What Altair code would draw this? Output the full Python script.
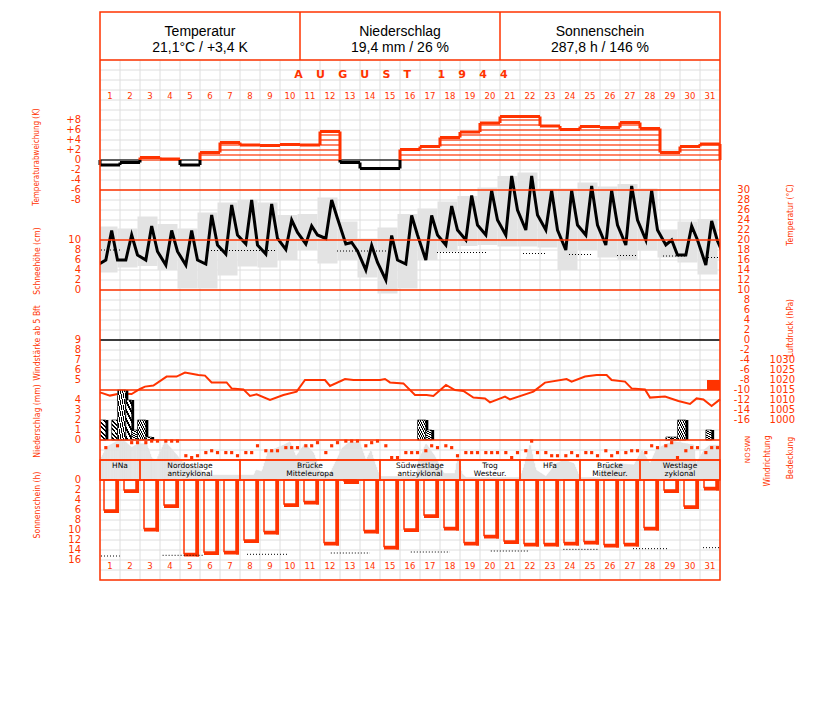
import altair as alt
import pandas as pd

RED = "#ff3300"
GRIDC = "#dedede"
SHADE = "#e3e3e3"
NARROW = "'Liberation Sans Narrow', 'DejaVu Sans Condensed', sans-serif"
WIDE = "'DejaVu Sans', sans-serif"
HEAD = "'Liberation Sans', Arial, sans-serif"

# ------------------------------------------------------------------ data
days = list(range(1, 32))

# daily mean temperature anomaly (K)
anomaly = [-1.0, -0.5, 0.5, 0.2, -1.0, 1.5, 3.5, 3.0, 2.9, 3.1, 3.0, 5.7, -0.5, -1.7, -1.7,
           2.1, 2.7, 4.5, 5.6, 7.4, 8.7, 8.7, 6.8, 6.1, 6.7, 6.5, 7.5, 6.3, 1.5, 2.7, 3.2]

# temperature at 7, 14, 21 h (°C)
temp_07 = [16.0, 16.0, 16.0, 15.0, 15.0, 15.2, 17.2, 19.2, 17.2, 18.1, 19.2, 20.3, 19.2, 14.0, 12.0,
           15.2, 16.0, 19.0, 20.0, 21.0, 21.0, 22.0, 22.0, 18.0, 21.0, 19.0, 19.0, 20.0, 19.0, 17.0, 15.0]
temp_14 = [21.9, 21.0, 22.8, 21.9, 21.9, 25.0, 27.0, 28.0, 27.2, 24.0, 22.8, 28.0, 19.5, 18.9, 20.9,
           24.9, 24.9, 26.8, 28.9, 29.9, 32.8, 32.8, 29.9, 29.9, 30.8, 29.9, 30.8, 29.9, 20.0, 22.8, 23.8]
temp_21 = [16.0, 17.0, 17.7, 17.7, 16.0, 19.0, 21.0, 19.0, 20.3, 21.5, 21.0, 24.3, 17.8, 15.5, 16.0,
           21.0, 21.0, 22.0, 23.0, 24.0, 26.0, 25.0, 22.0, 23.0, 23.0, 23.0, 24.0, 22.0, 17.0, 20.0, 19.8]
temp_prev_21 = 15.0   # 31 July, 21 h
temp_next_07 = 16.0   # 1 September, 7 h

# daily extremes (°C)
tmax = [22.7, 22.3, 24.7, 23.2, 22.3, 25.5, 27.5, 28.0, 27.5, 25.0, 25.2, 28.5, 23.7, 20.3, 22.5, 25.2,
        26.3, 27.7, 28.8, 30.5, 32.8, 33.5, 30.3, 30.3, 31.5, 30.7, 31.2, 30.3, 22.0, 23.7, 24.2]
tmin = [13.5, 14.5, 14.8, 14.0, 10.3, 10.3, 12.9, 14.7, 14.5, 16.0, 18.0, 15.3, 16.0, 12.5, 9.3, 10.3,
        16.0, 17.7, 18.8, 19.0, 18.7, 18.7, 18.5, 14.0, 18.0, 16.5, 16.0, 17.9, 16.5, 15.5, 13.1]

# normal temperature (dotted)
tnorm_from = [0.05, 5.4, 11.85, 16.85, 21.15, 23.45, 25.85, 28.15, 30.4]
tnorm_to = [1.0, 8.75, 14.3, 19.3, 22.3, 24.6, 26.9, 29.3, 31.0]
tnorm_val = [18.0, 17.9, 17.8, 17.5, 17.3, 17.1, 16.9, 16.8, 16.5]

# air pressure (hPa)
press_t = [0.0, 0.5, 1.0, 1.58, 2.0, 2.25, 2.67, 3.33, 3.83, 4.25, 4.92, 5.25, 5.58, 6.33, 6.58, 7.17,
           7.5, 7.83, 8.5, 9.17, 9.83, 10.25, 11.25, 11.5, 12.25, 12.67, 14.0, 14.25, 14.5, 15.17,
           15.75, 16.33, 16.67, 17.3, 17.75, 18.17, 18.67, 19.25, 19.5, 20.25, 20.5, 21.67, 22.25,
           23.33, 23.58, 24.25, 24.83, 25.33, 25.58, 26.25, 26.58, 27.25, 27.5, 28.25, 28.92, 29.5,
           29.83, 30.17, 30.58, 31.0]
press_hpa = [1013.8, 1012.2, 1013.3, 1013.0, 1015.5, 1016.7, 1017.2, 1021.7, 1021.7, 1023.7, 1022.5,
             1022.2, 1018.8, 1018.8, 1015.8, 1015.3, 1012.0, 1012.8, 1010.0, 1012.5, 1014.2, 1020.0,
             1020.0, 1017.0, 1020.5, 1020.0, 1020.0, 1020.5, 1018.8, 1018.3, 1012.5, 1012.5, 1012.0,
             1017.5, 1015.0, 1014.5, 1011.2, 1010.8, 1008.8, 1011.7, 1010.3, 1014.2, 1018.7, 1020.5,
             1019.2, 1021.7, 1022.5, 1022.5, 1020.0, 1019.2, 1015.8, 1015.3, 1011.2, 1011.7, 1009.5,
             1008.0, 1010.8, 1010.3, 1007.0, 1010.3]

# wind force >= 5 Bft
wind_from = [30.35]
wind_to = [31.0]
wind_bft = [5]

# precipitation per observation interval (mm)
precip_from = [0.0, 0.583, 0.875, 1.292, 1.583, 1.875, 2.292, 15.875, 16.292, 28.292, 28.583, 28.875, 30.292]
precip_to = [0.292, 0.875, 1.292, 1.583, 1.875, 2.292, 2.583, 16.292, 16.583, 28.583, 28.875, 29.292, 30.583]
precip_mm = [2.0, 2.0, 5.0, 4.0, 1.0, 2.0, 0.3, 2.0, 1.0, 0.3, 0.3, 2.0, 1.0]

# cloud cover (octas)
cloud_t = [0.0, 0.37, 0.83, 1.25, 1.58, 1.92, 2.33, 2.6, 2.83, 3.25, 3.83, 4.17, 4.83, 5.3, 6.8, 7.7,
           7.8, 8.1, 8.4, 9.2, 9.5, 9.8, 10.25, 10.7, 11.0, 11.5, 12.1, 12.5, 13.0, 13.3, 13.55, 13.75,
           14.0, 15.8, 15.9, 16.3, 16.75, 17.2, 17.75, 17.9, 18.1, 18.3, 21.0, 21.2, 21.5, 21.8, 22.3,
           22.8, 23.2, 23.7, 24.0, 25.0, 25.2, 26.0, 26.7, 27.1, 27.5, 27.8, 28.2, 28.7, 29.7, 29.8,
           30.2, 30.5, 31.0]
cloud_oct = [4.0, 6.7, 7.7, 7.7, 6.5, 7.3, 7.2, 4.3, 4.0, 7.7, 5.0, 3.3, 2.7, 1.0, 1.0, 1.0, 2.0, 1.7,
             5.7, 7.0, 7.7, 4.7, 7.3, 5.3, 1.7, 1.3, 6.3, 7.7, 7.3, 4.0, 6.0, 3.3, 0.7, 0.7, 3.7, 7.3,
             4.7, 1.3, 1.3, 5.3, 1.3, 0.5, 0.5, 2.7, 7.3, 2.0, 0.7, 3.3, 4.0, 3.3, 0.5, 0.5, 3.0, 3.3,
             3.0, 6.0, 3.3, 6.0, 7.0, 7.7, 7.0, 3.3, 6.0, 7.0, 7.0]

# wind direction at 7, 14, 21 h (degrees, None = calm)
wdir_07 = [210, None, 290, 315, 80, 130, 130, 130, 160, 210, 240, 130, 315, 240, 240, 130,
           160, 240, 130, 130, 130, 160, 130, 80, 130, 160, 130, 130, 240, 160, 130]
wdir_14 = [None, 290, 315, 315, 50, 160, 130, 130, 160, 210, 240, 240, 315, 290, 50, 130,
           240, 210, 130, 130, 50, 315, 80, 130, 130, 80, 160, 240, 290, 210, 210]
wdir_21 = [240, 290, 315, 315, 80, 130, 80, 240, 160, 210, 290, 290, 315, 315, 50, 130,
           210, 80, 130, 130, 130, 130, 80, 80, 80, 130, 160, 210, 50, 210, 210]

# sunshine duration (h)
sun_h = [6.0, 2.0, 9.7, 5.0, 14.7, 14.4, 14.3, 12.0, 10.3, 4.8, 4.3, 12.5, 0.2, 10.1, 13.3, 9.8,
         7.0, 9.5, 12.5, 11.1, 12.2, 12.7, 12.7, 12.5, 12.3, 12.9, 12.7, 9.5, 2.0, 5.2, 1.5]

# astronomically possible sunshine (dotted)
dlen_from = [0.05, 3.13, 7.35, 11.54, 15.54, 19.54, 23.17, 26.65, 30.15]
dlen_to = [0.99, 5.17, 9.4, 13.5, 17.5, 21.4, 24.9, 28.4, 31.0]
dlen_h = [15.2, 15.06, 14.86, 14.6, 14.4, 14.2, 13.87, 13.73, 13.53]

# weather types (Grosswetterlagen)
wt_line1 = ["HNa", "Nordostlage", "Brücke", "Südwestlage", "Trog", "HFa", "Brücke", "Westlage"]
wt_line2 = ["", "antizyklonal", "Mitteleuropa", "antizyklonal", "Westeur.", "", "Mitteleur.", "zyklonal"]
wt_from = [1, 3, 8, 15, 19, 22, 25, 28]
wt_to = [2, 7, 14, 18, 21, 24, 27, 31]

header_titles = ["Temperatur", "Niederschlag", "Sonnenschein"]
header_values = ["21,1°C / +3,4 K", "19,4 mm / 26 %", "287,8 h / 146 %"]

anom_ticks = [8, 6, 4, 2, 0, -2, -4, -6, -8]
snow_ticks = [10, 8, 6, 4, 2, 0]
wind_ticks = [9, 8, 7, 6, 5]
prec_ticks = [4, 3, 2, 1, 0]
sun_ticks = [0, 2, 4, 6, 8, 10, 12, 14, 16]
temp_ticks = list(range(30, -17, -2))
press_ticks = [1030, 1025, 1020, 1015, 1010, 1005, 1000]
wdir_ticks = [0, 90, 180, 270, 360]
wdir_names = ["N", "O", "S", "W", "N"]

# ------------------------------------------------------------------ scales
def sc(domain, rng):
    return alt.Scale(domain=domain, range=rng, nice=False, zero=False)

XS = sc([0, 31], [0, 620])
GRIDY = sc([0, 52], [48, 568])
ANOM = sc([0, 8], [148, 108])
TEMP = sc([0, 30], [328, 178])
SNOW = sc([0, 10], [278, 228])
PRESS = sc([1000, 1030], [408, 348])
WIND = sc([4, 9], [378, 328])
PREC = sc([0, 4], [428, 388])
CLOUD = sc([0, 8], [468, 428])
WDIR = sc([0, 360], [448.7, 426.3])
SUN = sc([0, 16], [468, 548])


def X(f):
    return alt.X(f, type="quantitative", scale=XS, axis=None)


def Y(f, s):
    return alt.Y(f, type="quantitative", scale=s, axis=None, stack=None)


layers = []

# grid
layers.append(alt.Chart(pd.DataFrame({"t": list(range(32))})).mark_rule(color=GRIDC, strokeWidth=1)
              .encode(x=X("t"), y=alt.value(48), y2=alt.value(568)))
layers.append(alt.Chart(pd.DataFrame({"r": list(range(53))})).mark_rule(color=GRIDC, strokeWidth=1)
              .encode(y=Y("r", GRIDY), x=alt.value(0), x2=alt.value(620)))

# daily temperature range (21 h to 21 h)
band = pd.DataFrame({"day": days, "tmax": tmax, "tmin": tmin})
band["x0"] = band["day"] - 1.125
band["x1"] = band["day"] - 0.125
layers.append(alt.Chart(band).mark_rect(color=SHADE, clip=True)
              .encode(x=X("x0"), x2="x1", y=Y("tmax", TEMP), y2="tmin"))

# normal temperature
tn = pd.DataFrame({"a": tnorm_from, "b": tnorm_to, "v": tnorm_val})
layers.append(alt.Chart(tn).mark_rule(color="black", strokeWidth=1, strokeDash=[1, 2])
              .encode(x=X("a"), x2="b", y=Y("v", TEMP)))

# temperature curve
trows = [{"t": -0.125, "T": temp_prev_21}]
for d, a, b, c in zip(days, temp_07, temp_14, temp_21):
    trows += [{"t": d - 1 + 7 / 24, "T": a}, {"t": d - 1 + 14 / 24, "T": b}, {"t": d - 1 + 21 / 24, "T": c}]
trows.append({"t": 31 + 7 / 24, "T": temp_next_07})
layers.append(alt.Chart(pd.DataFrame(trows)).mark_line(color="black", strokeWidth=3, clip=True)
              .encode(x=X("t"), y=Y("T", TEMP), order="t:Q"))

# temperature anomaly
COL = alt.Color("c:N", scale=alt.Scale(domain=["pos", "neg"], range=[RED, "black"]), legend=None)
lv = []
for d, v in zip(days, anomaly):
    if v > 0:
        for k in range(0, int(v) + 1):
            lv.append({"a": d - 1, "b": d, "k": k, "c": "pos"})
    else:
        lv.append({"a": d - 1, "b": d, "k": 0, "c": "neg"})
layers.append(alt.Chart(pd.DataFrame(lv)).mark_rule(strokeWidth=1.2)
              .encode(x=X("a"), x2="b", y=Y("k", ANOM), color=COL))
top = pd.DataFrame({"a": [d - 1 for d in days], "b": days, "v": anomaly,
                    "c": ["pos" if v > 0 else "neg" for v in anomaly]})
layers.append(alt.Chart(top).mark_rule(strokeWidth=3)
              .encode(x=X("a"), x2="b", y=Y("v", ANOM), color=COL))
con = []
seq = [0.0] + anomaly + [0.0]
for i in range(len(seq) - 1):
    p, q = seq[i], seq[i + 1]
    x = i
    if p >= 0 and q >= 0:
        con.append({"x": x, "y0": p, "y1": q, "c": "pos"})
    elif p <= 0 and q <= 0:
        con.append({"x": x, "y0": p, "y1": q, "c": "neg"})
    else:
        con.append({"x": x, "y0": p, "y1": 0, "c": "pos" if p > 0 else "neg"})
        con.append({"x": x, "y0": 0, "y1": q, "c": "pos" if q > 0 else "neg"})
layers.append(alt.Chart(pd.DataFrame(con)).mark_rule(strokeWidth=3)
              .encode(x=X("x"), y=Y("y0", ANOM), y2="y1", color=COL))

# pressure
layers.append(alt.Chart(pd.DataFrame({"t": press_t, "p": press_hpa})).mark_line(color=RED, strokeWidth=2)
              .encode(x=X("t"), y=Y("p", PRESS), order="t:Q"))

# wind force bar
layers.append(alt.Chart(pd.DataFrame({"a": wind_from, "b": wind_to, "v": wind_bft, "base": [4] * len(wind_bft)}))
              .mark_rect(color=RED).encode(x=X("a"), x2="b", y=Y("v", WIND), y2="base"))

# precipitation
pr = pd.DataFrame({"a": precip_from, "b": precip_to, "mm": precip_mm, "z": [0.0] * len(precip_mm)})
layers.append(alt.Chart(pr).mark_rect(color="black", xOffset=2.5, x2Offset=2.5)
              .encode(x=X("a"), x2="b", y=Y("mm", PREC), y2="z"))
stops = []
n = 9
for i in range(n):
    a, b, c = i / n, (i + 0.55) / n, (i + 1) / n
    stops += [{"offset": a, "color": "#ffffff"}, {"offset": b, "color": "#ffffff"},
              {"offset": b, "color": "#000000"}, {"offset": c, "color": "#000000"}]
hatch = {"gradient": "linear", "x1": 0, "y1": 0, "x2": 1, "y2": 1, "stops": stops}
layers.append(alt.Chart(pr).mark_rect(fill=hatch, stroke="black", strokeWidth=0.6)
              .encode(x=X("a"), x2="b", y=Y("mm", PREC), y2="z"))

# weather type band background
wt = pd.DataFrame({"l1": wt_line1, "l2": wt_line2, "f": wt_from, "t": wt_to})
wt["a"] = wt["f"] - 1
wt["b"] = wt["t"]
wt["m"] = (wt["a"] + wt["b"]) / 2
layers.append(alt.Chart(wt).mark_rect(color="white")
              .encode(x=X("a"), x2="b", y=alt.value(448), y2=alt.value(468)))

# cloud cover (drawn as a filled profile of thin slices between observations)
cl = pd.DataFrame({"t": cloud_t, "o": cloud_oct})
cl["t2"] = cl["t"].shift(-1)
cl["o2"] = cl["o"].shift(-1)
cl = cl.dropna()
cl["z"] = 0.0
slices = []
for _, r in cl.iterrows():
    steps = max(1, int(round((r["t2"] - r["t"]) * 20)))
    for j in range(steps):
        f0 = j / steps
        f1 = (j + 1) / steps
        slices.append({"a": r["t"] + (r["t2"] - r["t"]) * f0,
                       "b": r["t"] + (r["t2"] - r["t"]) * f1,
                       "o": r["o"] + (r["o2"] - r["o"]) * (f0 + f1) / 2,
                       "z": 0.0})
layers.append(alt.Chart(pd.DataFrame(slices)).mark_rect(color=SHADE, stroke=SHADE, strokeWidth=0.4)
              .encode(x=X("a"), x2="b", y=Y("o", CLOUD), y2="z"))

# wind direction dots
wd = []
for d, a, b, c in zip(days, wdir_07, wdir_14, wdir_21):
    for h, v in ((7, a), (14, b), (21, c)):
        if v is not None:
            wd.append({"t": d - 1 + h / 24, "deg": v})
layers.append(alt.Chart(pd.DataFrame(wd)).mark_square(color=RED, size=10, opacity=1)
              .encode(x=X("t"), y=Y("deg", WDIR)))

# weather type borders & text
layers.append(alt.Chart(wt).mark_rect(fill=None, stroke=RED, strokeWidth=1.3)
              .encode(x=X("a"), x2="b", y=alt.value(448), y2=alt.value(468)))
layers.append(alt.Chart(wt).mark_text(fontSize=7.5, font=WIDE, color="black", baseline="middle")
              .encode(x=X("m"), y=alt.value(453.5), text="l1:N"))
layers.append(alt.Chart(wt).mark_text(fontSize=7.5, font=WIDE, color="black", baseline="middle")
              .encode(x=X("m"), y=alt.value(461.5), text="l2:N"))

# sunshine
sn = pd.DataFrame({"day": days, "h": sun_h})
sn["a"] = sn["day"] - 0.8
sn["b"] = sn["day"] - 0.2
sn["z"] = 0.0
layers.append(alt.Chart(sn).mark_rect(fill=None, stroke=RED, strokeWidth=1.5)
              .encode(x=X("a"), x2="b", y=Y("z", SUN), y2="h"))
layers.append(alt.Chart(sn).mark_rule(color=RED, strokeWidth=3, xOffset=1.5, y2Offset=3)
              .encode(x=X("b"), y=Y("z", SUN), y2="h"))
layers.append(alt.Chart(sn).mark_rule(color=RED, strokeWidth=3, yOffset=1.5, x2Offset=3)
              .encode(x=X("a"), x2="b", y=Y("h", SUN)))
dl = pd.DataFrame({"a": dlen_from, "b": dlen_to, "v": dlen_h})
layers.append(alt.Chart(dl).mark_rule(color="black", strokeWidth=1, strokeDash=[1, 2])
              .encode(x=X("a"), x2="b", y=Y("v", SUN)))

# panel separator lines
def hline(values, scale, color=RED):
    return alt.Chart(pd.DataFrame({"v": values})).mark_rule(color=color, strokeWidth=1.5) \
        .encode(y=Y("v", scale), x=alt.value(0), x2=alt.value(620))


layers.append(hline([30, 20, 10], TEMP))
layers.append(hline([0], TEMP, "black"))
layers.append(hline([1015], PRESS))
layers.append(hline([0], PREC))
layers.append(hline([0], SUN))
layers.append(alt.Chart(pd.DataFrame({"v": [0]})).mark_rule(color=RED, strokeWidth=1.5)
              .encode(y=alt.value(448), x=alt.value(0), x2=alt.value(620)))
layers.append(alt.Chart(pd.DataFrame({"v": [0]})).mark_rule(color=RED, strokeWidth=1.5)
              .encode(y=alt.value(48), x=alt.value(0), x2=alt.value(620)))

# header
hd = pd.DataFrame({"t": header_titles, "v": header_values, "i": [0, 1, 2]})
hd["m"] = hd["i"] * 10 + 5
hd["sep"] = hd["i"] * 10 + 10
layers.append(alt.Chart(hd[hd["i"] < 2]).mark_rule(color=RED, strokeWidth=1.5)
              .encode(x=X("sep"), y=alt.value(0), y2=alt.value(48)))
layers.append(alt.Chart(hd).mark_text(font=HEAD, fontSize=14, color="black", baseline="middle")
              .encode(x=X("m"), y=alt.value(20), text="t:N"))
layers.append(alt.Chart(hd).mark_text(font=HEAD, fontSize=14, color="black", baseline="middle")
              .encode(x=X("m"), y=alt.value(35.5), text="v:N"))

# outer frame
layers.append(alt.Chart(pd.DataFrame({"v": [0]})).mark_rect(fill=None, stroke=RED, strokeWidth=1.5)
              .encode(x=alt.value(0), x2=alt.value(620), y=alt.value(0), y2=alt.value(568)))

# month title
month = "\u2003\u2009".join("AUGUST") + "\u2003\u2003\u2009\u2009" + "\u2003\u2009".join("1944")
layers.append(alt.Chart(pd.DataFrame({"s": [month]})).mark_text(font=WIDE, fontSize=11, fontWeight="bold",
                                                                 color=RED, baseline="middle")
              .encode(x=alt.value(301), y=alt.value(63), text="s:N"))

# day numbers
dd = pd.DataFrame({"day": days})
dd["m"] = dd["day"] - 0.5
for yy in (84, 554):
    layers.append(alt.Chart(dd).mark_text(font=WIDE, fontSize=8.5, color=RED, baseline="middle")
                  .encode(x=X("m"), y=alt.value(yy), text="day:N"))


def ticks(values, labels, scale, xpos, align="right", size=10):
    df = pd.DataFrame({"v": values, "s": labels})
    return alt.Chart(df).mark_text(font=WIDE, fontSize=size, color=RED, align=align, baseline="middle") \
        .encode(x=alt.value(xpos), y=Y("v", scale), text="s:N")


def sgn(v):
    return "+" + str(v) if v > 0 else ("0" if v == 0 else "-" + str(abs(v)))


layers.append(ticks(anom_ticks, [sgn(v) for v in anom_ticks], ANOM, -19))
layers.append(ticks(snow_ticks, [str(v) for v in snow_ticks], SNOW, -19))
layers.append(ticks(wind_ticks, [str(v) for v in wind_ticks], WIND, -19))
layers.append(ticks(prec_ticks, [str(v) for v in prec_ticks], PREC, -19))
layers.append(ticks(sun_ticks, [str(v) for v in sun_ticks], SUN, -19))
layers.append(ticks(temp_ticks, [str(v) for v in temp_ticks], TEMP, 650))
layers.append(ticks(press_ticks, [str(v) for v in press_ticks], PRESS, 695))
layers.append(alt.Chart(pd.DataFrame({"v": wdir_ticks, "s": wdir_names})).mark_text(
    font=WIDE, fontSize=7, color=RED, angle=270, baseline="middle")
    .encode(x=alt.value(648), y=Y("v", WDIR), text="s:N"))


def vtitle(text, x, y, size=8.5):
    return alt.Chart(pd.DataFrame({"s": [text]})).mark_text(
        font=NARROW, fontSize=size, color=RED, angle=270, baseline="middle", align="center") \
        .encode(x=alt.value(x), y=alt.value(y), text="s:N")


layers += [
    vtitle("Temperaturabweichung (K)", -63, 145, 8),
    vtitle("Schneehöhe (cm)", -63, 249),
    vtitle("Windstärke ab 5 Bft", -63, 331),
    vtitle("Niederschlag (mm)", -63, 409),
    vtitle("Sonnenschein (h)", -63, 493),
    vtitle("Temperatur (°C)", 690, 203),
    vtitle("Luftdruck (hPa)", 690, 316),
    vtitle("Windrichtung", 667, 449),
    vtitle("Bedeckung", 690, 446),
]

chart = alt.layer(*layers).resolve_scale(y="independent").properties(
    width=620, height=568,
    autosize=alt.AutoSizeParams(type="none"),
    padding={"left": 92, "top": 4, "right": 90, "bottom": 20},
    background="white",
).configure_view(stroke=None)

chart.save("out.html", embed_options={"renderer": "svg", "actions": False})
